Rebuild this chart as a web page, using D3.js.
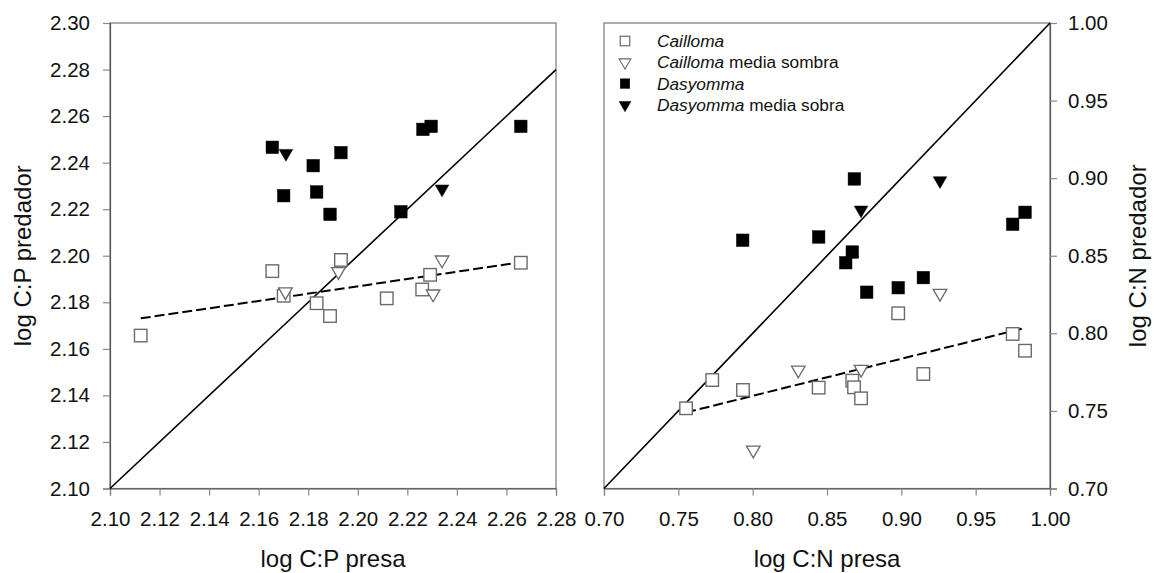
<!DOCTYPE html>
<html>
<head>
<meta charset="utf-8">
<script src="https://cdn.jsdelivr.net/npm/d3@7"></script>
<style>
  html, body { margin: 0; padding: 0; background: #fff; }
  svg { display: block; font-family: "Liberation Sans", Arial, sans-serif; }
</style>
</head>
<body>
<svg id="chart" width="1158" height="573"></svg>
<script>
// ---- Left panel: log C:P (presa vs predador) ----
const cpCailloma = [
  [2.1124, 2.1657], [2.1655, 2.1934], [2.1701, 2.1828], [2.1834, 2.1796],
  [2.1888, 2.1741], [2.1932, 2.1982], [2.2117, 2.1817], [2.2260, 2.1855],
  [2.2292, 2.1918], [2.2658, 2.1970]
];
const cpCaillomaSombra = [
  [2.1708, 2.1845], [2.1922, 2.1932], [2.2304, 2.1836], [2.2340, 2.1982]
];
const cpDasyomma = [
  [2.1655, 2.2466], [2.1701, 2.2258], [2.1820, 2.2387], [2.1834, 2.2274],
  [2.1888, 2.2178], [2.1932, 2.2443], [2.2174, 2.2189], [2.2263, 2.2543],
  [2.2296, 2.2556], [2.2658, 2.2556]
];
const cpDasyommaSombra = [
  [2.1710, 2.2440], [2.2340, 2.2287]
];
const cpFit = [[2.1124, 2.1731], [2.2658, 2.1972]];
const cpIdentity = [[2.10, 2.10], [2.28, 2.28]];
const cpXTicks = [2.10, 2.12, 2.14, 2.16, 2.18, 2.20, 2.22, 2.24, 2.26, 2.28];
const cpYTicks = [2.10, 2.12, 2.14, 2.16, 2.18, 2.20, 2.22, 2.24, 2.26, 2.28, 2.30];

// ---- Right panel: log C:N (presa vs predador) ----
const cnCailloma = [
  [0.7552, 0.7517], [0.7728, 0.7699], [0.7935, 0.7635], [0.8444, 0.7650],
  [0.8670, 0.7695], [0.8682, 0.7652], [0.8729, 0.7581], [0.8979, 0.8129],
  [0.9148, 0.7738], [0.9749, 0.7996], [0.9832, 0.7888]
];
const cnCaillomaSombra = [
  [0.8004, 0.7248], [0.8307, 0.7764], [0.8729, 0.7768], [0.9260, 0.8258]
];
const cnDasyomma = [
  [0.7933, 0.8600], [0.8444, 0.8621], [0.8670, 0.8524], [0.8626, 0.8455],
  [0.8684, 0.8995], [0.8767, 0.8265], [0.8979, 0.8294], [0.9148, 0.8359],
  [0.9749, 0.8703], [0.9832, 0.8780]
];
const cnDasyommaSombra = [
  [0.8729, 0.8795], [0.9260, 0.8984]
];
const cnFit = [[0.7552, 0.7490], [0.9836, 0.8036]];
const cnIdentity = [[0.70, 0.70], [1.00, 1.00]];
const cnXTicks = [0.70, 0.75, 0.80, 0.85, 0.90, 0.95, 1.00];
const cnYTicks = [0.70, 0.75, 0.80, 0.85, 0.90, 0.95, 1.00];

const legendItems = [
  { italic: "Cailloma", rest: "", kind: "openSquare" },
  { italic: "Cailloma", rest: " media sombra", kind: "openTriangle" },
  { italic: "Dasyomma", rest: "", kind: "filledSquare" },
  { italic: "Dasyomma", rest: " media sobra", kind: "filledTriangle" }
];

const svg = d3.select("#chart");
const TOP = 23, BOTTOM = 488.5;
const frameColor = "#777";
const tickFont = 20.5;
const titleFont = 24;

const triPath = d3.symbol().type(d3.symbolTriangle).size(80)();

function drawMarkers(g, data, kind, x, y) {
  const s = 12.5;
  if (kind === "openSquare" || kind === "filledSquare") {
    g.selectAll(null).data(data).join("rect")
      .attr("x", d => x(d[0]) - s / 2)
      .attr("y", d => y(d[1]) - s / 2)
      .attr("width", s).attr("height", s)
      .attr("fill", kind === "filledSquare" ? "#000" : "#fff")
      .attr("stroke", kind === "filledSquare" ? "#000" : "#6a6a6a")
      .attr("stroke-width", kind === "filledSquare" ? 0.5 : 1.4);
  } else {
    g.selectAll(null).data(data).join("path")
      .attr("d", triPath)
      .attr("transform", d => `translate(${x(d[0])},${y(d[1])}) rotate(180)`)
      .attr("fill", kind === "filledTriangle" ? "#000" : "#fff")
      .attr("stroke", kind === "filledTriangle" ? "#000" : "#6a6a6a")
      .attr("stroke-width", kind === "filledTriangle" ? 0.5 : 1.3);
  }
}

function drawLine(g, pts, x, y, dashed) {
  g.append("path")
    .attr("d", d3.line().x(d => x(d[0])).y(d => y(d[1]))(pts))
    .attr("fill", "none")
    .attr("stroke", "#000")
    .attr("stroke-width", dashed ? 2 : 1.6)
    .attr("stroke-dasharray", dashed ? "10,4" : null);
}

function styleAxis(g) {
  g.selectAll(".domain").attr("stroke", "#555").attr("stroke-width", 1.2);
  g.selectAll(".tick line").attr("stroke", "#888").attr("stroke-width", 1.2);
  g.selectAll(".tick text").attr("fill", "#111").style("font-size", tickFont + "px")
    .style("font-family", "'Liberation Sans', Arial, sans-serif");
}

function panel(opts) {
  const { x, y, xTicks, yTicks, yRight } = opts;
  const g = svg.append("g");
  const [x0, x1] = x.range();

  // frame
  g.append("rect")
    .attr("x", x0).attr("y", TOP)
    .attr("width", x1 - x0).attr("height", BOTTOM - TOP)
    .attr("fill", "none").attr("stroke", frameColor).attr("stroke-width", 1.2);

  const xa = g.append("g").attr("transform", `translate(0,${BOTTOM})`)
    .call(d3.axisBottom(x).tickValues(xTicks).tickFormat(d3.format(".2f")).tickSizeOuter(0).tickSize(7).tickPadding(16));
  styleAxis(xa);

  const ya = yRight
    ? g.append("g").attr("transform", `translate(${x1},0)`)
        .call(d3.axisRight(y).tickValues(yTicks).tickFormat(d3.format(".2f")).tickSizeOuter(0).tickSize(7).tickPadding(11))
    : g.append("g").attr("transform", `translate(${x0},0)`)
        .call(d3.axisLeft(y).tickValues(yTicks).tickFormat(d3.format(".2f")).tickSizeOuter(0).tickSize(7).tickPadding(13));
  styleAxis(ya);

  const plot = g.append("g");
  drawLine(plot, opts.identity, x, y, false);
  drawLine(plot, opts.fit, x, y, true);
  drawMarkers(plot, opts.cailloma, "openSquare", x, y);
  drawMarkers(plot, opts.caillomaSombra, "openTriangle", x, y);
  drawMarkers(plot, opts.dasyomma, "filledSquare", x, y);
  drawMarkers(plot, opts.dasyommaSombra, "filledTriangle", x, y);

  // axis titles
  g.append("text")
    .attr("x", (x0 + x1) / 2).attr("y", 567)
    .attr("text-anchor", "middle")
    .style("font-size", titleFont + "px").attr("fill", "#111")
    .text(opts.xTitle);

  const tx = yRight ? 1137 : 22.5;
  const cy = (TOP + BOTTOM) / 2;
  g.append("text")
    .attr("transform", `translate(${tx},${cy}) rotate(-90)`)
    .attr("text-anchor", "middle")
    .attr("dominant-baseline", "central")
    .style("font-size", titleFont + "px").attr("fill", "#111")
    .text(opts.yTitle);
  return g;
}

const xL = d3.scaleLinear().domain([2.10, 2.28]).range([110, 556]);
const yL = d3.scaleLinear().domain([2.10, 2.30]).range([BOTTOM, TOP]);
panel({
  x: xL, y: yL, xTicks: cpXTicks, yTicks: cpYTicks, yRight: false,
  identity: cpIdentity, fit: cpFit,
  cailloma: cpCailloma, caillomaSombra: cpCaillomaSombra,
  dasyomma: cpDasyomma, dasyommaSombra: cpDasyommaSombra,
  xTitle: "log C:P presa", yTitle: "log C:P predador"
});

const xR = d3.scaleLinear().domain([0.70, 1.00]).range([604, 1050]);
const yR = d3.scaleLinear().domain([0.70, 1.00]).range([BOTTOM, TOP]);
panel({
  x: xR, y: yR, xTicks: cnXTicks, yTicks: cnYTicks, yRight: true,
  identity: cnIdentity, fit: cnFit,
  cailloma: cnCailloma, caillomaSombra: cnCaillomaSombra,
  dasyomma: cnDasyomma, dasyommaSombra: cnDasyommaSombra,
  xTitle: "log C:N presa", yTitle: "log C:N predador"
});

// legend inside the right panel
const legend = svg.append("g").attr("transform", "translate(625,41)");
const rowGap = 21.3;
legendItems.forEach((item, i) => {
  const row = legend.append("g").attr("transform", `translate(0,${i * rowGap})`);
  const s = 9.5;
  if (item.kind.endsWith("Square")) {
    row.append("rect").attr("x", -s / 2).attr("y", -s / 2).attr("width", s).attr("height", s)
      .attr("fill", item.kind === "filledSquare" ? "#000" : "#fff")
      .attr("stroke", item.kind === "filledSquare" ? "#000" : "#6a6a6a")
      .attr("stroke-width", item.kind === "filledSquare" ? 0.5 : 1.2);
  } else {
    row.append("path").attr("d", d3.symbol().type(d3.symbolTriangle).size(60)())
      .attr("transform", "rotate(180)")
      .attr("fill", item.kind === "filledTriangle" ? "#000" : "#fff")
      .attr("stroke", item.kind === "filledTriangle" ? "#000" : "#6a6a6a")
      .attr("stroke-width", item.kind === "filledTriangle" ? 0.5 : 1.1);
  }
  const t = row.append("text").attr("x", 32).attr("y", 6)
    .style("font-size", "17.3px").attr("fill", "#111");
  t.append("tspan").style("font-style", "italic").text(item.italic);
  if (item.rest) t.append("tspan").text(item.rest);
});
</script>
</body>
</html>
